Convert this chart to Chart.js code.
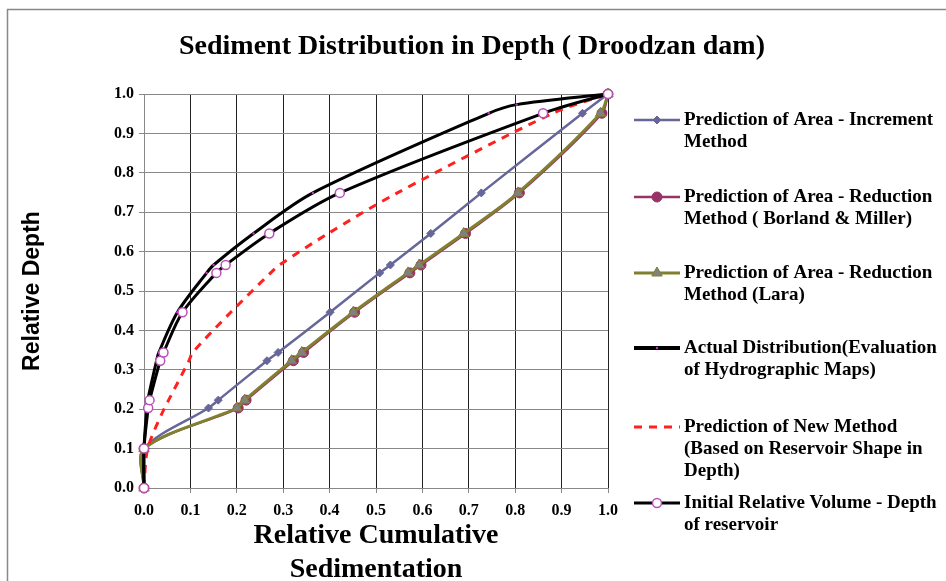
<!DOCTYPE html>
<html>
<head>
<meta charset="utf-8">
<script src="https://cdn.jsdelivr.net/npm/chart.js@4"></script>
<style>
  body { margin: 0; background: #fff; }
  canvas { display: block; }
</style>
</head>
<body>
<canvas id="myChart1" width="946" height="581"></canvas>
<script>
// relative depth levels shared by most series
const depth = [0, 0.1, 0.203, 0.223, 0.323, 0.344, 0.446, 0.546, 0.566, 0.646, 0.749, 0.951, 1.0];

const incrementX = [0, 0, 0.139, 0.160, 0.265, 0.289, 0.401, 0.508, 0.531, 0.618, 0.727, 0.945, 1.0];
const borlandX = [0, 0, 0.203, 0.220, 0.322, 0.344, 0.454, 0.573, 0.597, 0.693, 0.809, 0.987, 1.0];
const laraX = [0, 0, 0.200, 0.217, 0.318, 0.340, 0.451, 0.569, 0.593, 0.689, 0.806, 0.984, 1.0];
const newMethodX = [0, 0.008, 0.044, 0.053, 0.097, 0.105, 0.187, 0.273, 0.292, 0.397, 0.546, 0.881, 1.0];
const initialX = [0, 0, 0.009, 0.012, 0.035, 0.042, 0.083, 0.156, 0.176, 0.270, 0.422, 0.860, 1.0];

const actualY = [0, 0.1, 0.203, 0.223, 0.323, 0.344, 0.446, 0.546, 0.566, 0.646, 0.749, 0.951, 0.973, 1.0];
const actualX = [0, 0, 0.006, 0.008, 0.027, 0.032, 0.072, 0.135, 0.150, 0.236, 0.364, 0.743, 0.803, 1.0];

const legendText = [
  ['Prediction of Area - Increment', 'Method'],
  ['Prediction of Area - Reduction', 'Method ( Borland & Miller)'],
  ['Prediction of Area - Reduction', 'Method (Lara)'],
  ['Actual Distribution(Evaluation', 'of Hydrographic Maps)'],
  ['Prediction of New Method', '(Based on Reservoir Shape in', 'Depth)'],
  ['Initial Relative Volume - Depth', 'of reservoir']
];

const titleText = 'Sediment Distribution in Depth ( Droodzan dam)';
const xTitle = ['Relative Cumulative', 'Sedimentation'];
const yTitle = 'Relative Depth';

function pairs(xs, ys) {
  return xs.map((x, i) => ({ x: x, y: ys[i] }));
}

const serif = '"Liberation Serif", "Times New Roman", serif';

const datasets = [
  {
    label: legendText[0].join(' '),
    data: pairs(incrementX, depth),
    borderColor: '#666699', backgroundColor: '#666699',
    borderWidth: 2.5, pointStyle: 'rectRot', pointRadius: 4, pointBorderWidth: 1
  },
  {
    label: legendText[1].join(' '),
    data: pairs(borlandX, depth),
    borderColor: '#993366', backgroundColor: '#993366',
    borderWidth: 2.5, pointStyle: 'circle', pointRadius: 5, pointBorderWidth: 1
  },
  {
    label: legendText[2].join(' '),
    data: pairs(laraX, depth),
    borderColor: '#808030', backgroundColor: '#808080',
    borderWidth: 3, pointStyle: 'triangle', pointRadius: 6, pointBorderWidth: 1
  },
  {
    label: legendText[3].join(' '),
    data: pairs(actualX, actualY),
    borderColor: '#000000', backgroundColor: '#cc33cc',
    borderWidth: 3, pointStyle: 'circle', pointRadius: 1.2, pointBorderWidth: 0
  },
  {
    label: legendText[4].join(' '),
    data: pairs(newMethodX, depth),
    borderColor: '#ff2020', backgroundColor: '#ff2020',
    borderWidth: 3, borderDash: [8, 7], pointRadius: 0
  },
  {
    label: legendText[5].join(' '),
    data: pairs(initialX, depth),
    borderColor: '#000000', backgroundColor: '#ffffff',
    pointBorderColor: '#b94fb9',
    borderWidth: 3, pointStyle: 'circle', pointRadius: 4.5, pointBorderWidth: 1.5
  }
];
datasets.forEach((d, i) => {
  d.tension = 0.3;
  d.clip = false;
  d.order = datasets.length - i; // excel draws later series on top
  d.fill = false;
});

// frame round the chart (left and top edges only show) + the title,
// centred on the whole picture rather than on the plot
const framePlugin = {
  id: 'frame',
  beforeDraw(chart) {
    const ctx = chart.ctx;
    ctx.save();
    ctx.fillStyle = '#fff';
    ctx.fillRect(0, 0, chart.width, chart.height);
    ctx.strokeStyle = '#888';
    ctx.lineWidth = 1.5;
    ctx.beginPath();
    ctx.moveTo(7.5, chart.height);
    ctx.lineTo(7.5, 9.5);
    ctx.lineTo(chart.width, 9.5);
    ctx.stroke();
    ctx.fillStyle = '#000';
    ctx.font = 'bold 28px ' + serif;
    ctx.textAlign = 'center';
    ctx.textBaseline = 'middle';
    ctx.fillText(titleText, 472, 47);
    ctx.restore();
  }
};

// legend on the right, wrapped text like the excel one
const legendRows = [120, 197, 273, 348, 427, 503];
const legendPlugin = {
  id: 'sideLegend',
  afterDraw(chart) {
    const ctx = chart.ctx;
    const x0 = 634, x1 = 680, tx = 684;
    const cx = (x0 + x1) / 2;
    ctx.save();
    legendText.forEach((lines, i) => {
      const ds = chart.data.datasets[i];
      const y = legendRows[i];
      ctx.strokeStyle = ds.borderColor;
      ctx.lineWidth = i === 3 ? 4 : ds.borderWidth;
      ctx.setLineDash(ds.borderDash || []);
      ctx.beginPath();
      ctx.moveTo(x0, y);
      ctx.lineTo(x1, y);
      ctx.stroke();
      ctx.setLineDash([]);
      if (ds.pointRadius > 0) {
        const r = ds.pointRadius;
        ctx.fillStyle = ds.backgroundColor;
        ctx.strokeStyle = ds.pointBorderColor || ds.borderColor;
        ctx.lineWidth = ds.pointBorderWidth;
        ctx.beginPath();
        if (ds.pointStyle === 'rectRot') {
          ctx.moveTo(cx - r, y); ctx.lineTo(cx, y - r); ctx.lineTo(cx + r, y); ctx.lineTo(cx, y + r);
          ctx.closePath();
        } else if (ds.pointStyle === 'triangle') {
          ctx.moveTo(cx - r * 0.87, y + r * 0.5); ctx.lineTo(cx, y - r); ctx.lineTo(cx + r * 0.87, y + r * 0.5);
          ctx.closePath();
        } else {
          ctx.arc(cx, y, r, 0, Math.PI * 2);
        }
        ctx.fill();
        if (ds.pointBorderWidth > 0) ctx.stroke();
      }
      ctx.fillStyle = '#000';
      ctx.font = 'bold 19px ' + serif;
      ctx.textBaseline = 'middle';
      ctx.textAlign = 'left';
      lines.forEach((t, k) => ctx.fillText(t, tx, y + k * 22));
    });
    ctx.restore();
  }
};

const config = {
  type: 'line',
  data: { datasets: datasets },
  options: {
    responsive: false,
    animation: false,
    layout: { padding: { left: 0, right: 338, top: 94, bottom: 0 } },
    elements: { line: { capBezierPoints: false } },
    plugins: {
      legend: { display: false },
      tooltip: { enabled: false },
      title: { display: false }
    },
    scales: {
      x: {
        type: 'linear',
        min: 0, max: 1,
        afterFit(scale) { scale.height = 93; },
        ticks: {
          stepSize: 0.1,
          padding: 8,
          color: '#000',
          font: { family: serif, size: 16, weight: 'bold' },
          callback: v => v.toFixed(1)
        },
        grid: { color: '#222', lineWidth: 1, tickLength: 5, tickColor: '#888' },
        border: { color: '#888', width: 1 },
        title: {
          display: true,
          text: xTitle,
          color: '#000',
          font: { family: serif, size: 28, weight: 'bold', lineHeight: '34px' },
          padding: { top: 0, bottom: -6 }
        }
      },
      y: {
        type: 'linear',
        min: 0, max: 1,
        afterFit(scale) { scale.width = 144; },
        ticks: {
          stepSize: 0.1,
          padding: 5,
          color: '#000',
          font: { family: serif, size: 16, weight: 'bold' },
          callback: v => v.toFixed(1)
        },
        grid: { color: '#888', lineWidth: 1, tickLength: 5, tickColor: '#888' },
        border: { color: '#888', width: 1 },
        title: {
          display: true,
          text: yTitle,
          color: '#000',
          font: { family: '"Liberation Sans", Arial, sans-serif', size: 23, weight: 'bold' },
          padding: { top: 19, bottom: 0 }
        }
      }
    }
  },
  plugins: [framePlugin, legendPlugin]
};

const chart_ = new Chart(document.getElementById('myChart1').getContext('2d'), config);
</script>
</body>
</html>
